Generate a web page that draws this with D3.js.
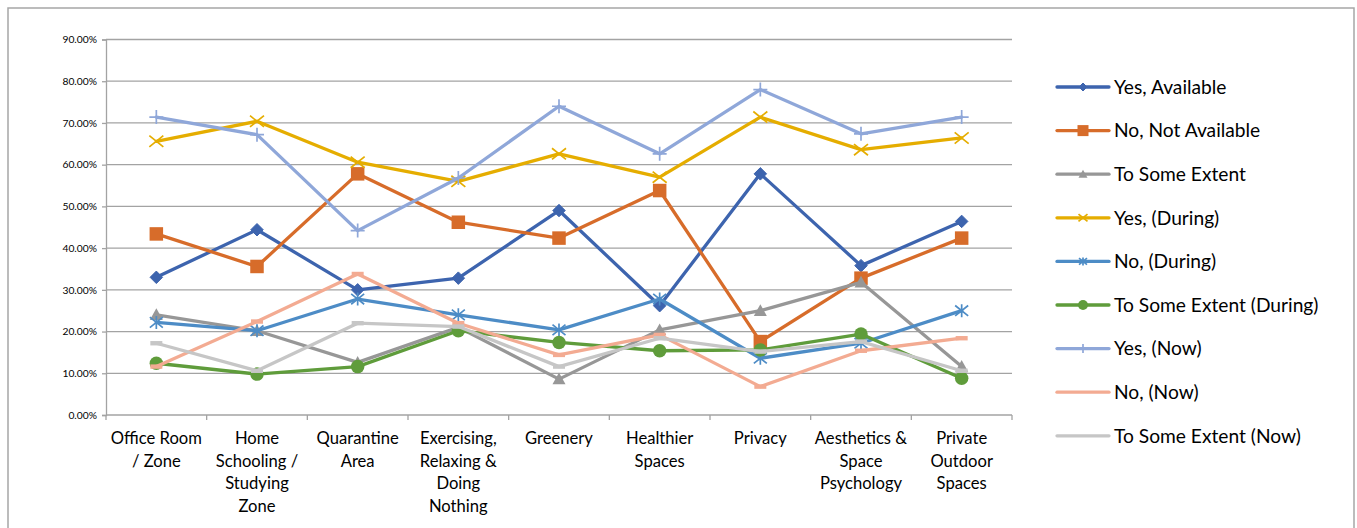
<!DOCTYPE html>
<html>
<head>
<meta charset="utf-8">
<script src="https://cdn.jsdelivr.net/npm/d3@7"></script>
<style>
  html, body { margin: 0; padding: 0; background: #fff; }
  svg { display: block; }
  text { font-family: Lato, "Open Sans", sans-serif; fill: #000; }
</style>
</head>
<body>
<svg id="chart" width="1357" height="528"></svg>
<script>
// Categories (x axis), each split into the lines it is written on
const categories = [
  "Office Room / Zone", "Home Schooling / Studying Zone", "Quarantine Area",
  "Exercising, Relaxing & Doing Nothing", "Greenery", "Healthier Spaces",
  "Privacy", "Aesthetics & Space Psychology", "Private Outdoor Spaces"
];
const categoryLines = [
  ["Office Room", "/ Zone"],
  ["Home", "Schooling /", "Studying", "Zone"],
  ["Quarantine", "Area"],
  ["Exercising,", "Relaxing &", "Doing", "Nothing"],
  ["Greenery"],
  ["Healthier", "Spaces"],
  ["Privacy"],
  ["Aesthetics &", "Space", "Psychology"],
  ["Private", "Outdoor", "Spaces"]
];

// Series values, in percent
const yesAvailable   = [33.0, 44.4, 30.0, 32.8, 49.0, 26.2, 57.8, 35.8, 46.4];
const noNotAvailable = [43.4, 35.6, 57.8, 46.2, 42.4, 53.8, 17.6, 32.8, 42.4];
const toSomeExtent   = [24.0, 20.2, 12.6, 21.0,  8.6, 20.4, 25.0, 31.8, 11.6];
const yesDuring      = [65.6, 70.4, 60.6, 56.0, 62.6, 57.0, 71.4, 63.6, 66.4];
const noDuring       = [22.2, 20.2, 27.8, 24.0, 20.4, 27.8, 13.6, 17.2, 25.0];
const someDuring     = [12.4,  9.8, 11.6, 20.2, 17.4, 15.4, 15.6, 19.4,  8.8];
const yesNow         = [71.4, 67.2, 44.2, 56.8, 74.0, 62.6, 78.0, 67.4, 71.4];
const noNow          = [11.6, 22.4, 33.8, 22.0, 14.4, 19.2,  6.8, 15.4, 18.4];
const someNow        = [17.2, 10.6, 22.0, 21.2, 11.6, 18.4, 15.2, 17.6, 10.6];

const seriesNames = [
  "Yes, Available", "No, Not Available", "To Some Extent",
  "Yes, (During)", "No, (During)", "To Some Extent (During)",
  "Yes, (Now)", "No, (Now)", "To Some Extent (Now)"
];
const seriesValues = [
  yesAvailable, noNotAvailable, toSomeExtent,
  yesDuring, noDuring, someDuring,
  yesNow, noNow, someNow
];
const seriesColors = [
  "#3d64ae", "#d76c2a", "#979797",
  "#e5ad00", "#4d8cc6", "#5f9c3b",
  "#8fa7d9", "#f3ab92", "#c6c6c6"
];
const seriesMarkers = [
  "diamond", "square", "triangle",
  "x", "asterisk", "circle",
  "plus", "dash", "dash"
];

const yTicks = [0, 10, 20, 30, 40, 50, 60, 70, 80, 90];

const series = seriesNames.map((name, i) => ({
  name, values: seriesValues[i], color: seriesColors[i], marker: seriesMarkers[i]
}));

const svg = d3.select("#chart");
const plot = { left: 106, right: 1012, top: 39.5, bottom: 415 };
const gridColor = "#a3a3a3";

// Chart area border
svg.append("rect")
  .attr("x", 8).attr("y", 8)
  .attr("width", 1346).attr("height", 540)
  .attr("fill", "#fff")
  .attr("stroke", "#a6a6a6").attr("stroke-width", 1.5);

const x = d3.scaleBand().domain(categories).range([plot.left, plot.right]).padding(0);
const y = d3.scaleLinear().domain([0, 90]).range([plot.bottom, plot.top]);
const cx = c => x(c) + x.bandwidth() / 2;

// Horizontal gridlines
svg.append("g")
  .selectAll("line")
  .data(yTicks.filter(t => t > 0))
  .join("line")
  .attr("x1", plot.left).attr("x2", plot.right)
  .attr("y1", d => y(d)).attr("y2", d => y(d))
  .attr("stroke", gridColor).attr("stroke-width", 1.3);

// Y axis
const yAxis = svg.append("g")
  .attr("transform", `translate(${plot.left},0)`)
  .call(d3.axisLeft(y).tickValues(yTicks).tickSize(4).tickPadding(5)
    .tickFormat(d => d.toFixed(2) + "%"));
yAxis.select(".domain").attr("stroke", gridColor).attr("stroke-width", 1.3);
yAxis.selectAll(".tick line").attr("stroke", gridColor).attr("stroke-width", 1.3);
yAxis.selectAll(".tick text")
  .style("font-family", "Lato, sans-serif").style("font-size", "10.3px").attr("fill", "#000");

// X axis: baseline with tick marks between categories
const xAxis = svg.append("g");
xAxis.append("line")
  .attr("x1", plot.left).attr("x2", plot.right)
  .attr("y1", plot.bottom).attr("y2", plot.bottom)
  .attr("stroke", gridColor).attr("stroke-width", 1.3);
const boundaries = categories.map(c => x(c)).concat([plot.right]);
xAxis.selectAll("line.tick")
  .data(boundaries)
  .join("line")
  .attr("class", "tick")
  .attr("x1", d => d).attr("x2", d => d)
  .attr("y1", plot.bottom).attr("y2", plot.bottom + 5)
  .attr("stroke", gridColor).attr("stroke-width", 1.3);

const labelG = svg.append("g");
categories.forEach((c, i) => {
  const t = labelG.append("text")
    .attr("x", cx(c))
    .attr("y", 444)
    .attr("text-anchor", "middle")
    .style("font-size", "16.6px");
  categoryLines[i].forEach((line, k) => {
    t.append("tspan").attr("x", cx(c)).attr("dy", k === 0 ? 0 : 22.7).text(line);
  });
});

// Marker drawing
function drawMarker(g, type, color, px, py, s) {
  const h = s / 2;
  switch (type) {
    case "diamond":
      g.append("path")
        .attr("d", `M${px},${py - h} L${px + h},${py} L${px},${py + h} L${px - h},${py} Z`)
        .attr("fill", color).attr("stroke", color).attr("stroke-width", 1);
      break;
    case "square":
      g.append("rect")
        .attr("x", px - h).attr("y", py - h).attr("width", s).attr("height", s)
        .attr("fill", color);
      break;
    case "triangle":
      g.append("path")
        .attr("d", `M${px},${py - h} L${px + h},${py + h * 0.8} L${px - h},${py + h * 0.8} Z`)
        .attr("fill", color);
      break;
    case "circle":
      g.append("circle").attr("cx", px).attr("cy", py).attr("r", h).attr("fill", color);
      break;
    case "x":
      g.append("path")
        .attr("d", `M${px - h},${py - h * 0.8} L${px + h},${py + h * 0.8} M${px + h},${py - h * 0.8} L${px - h},${py + h * 0.8}`)
        .attr("stroke", color).attr("stroke-width", 1.7).attr("fill", "none");
      break;
    case "asterisk":
      g.append("path")
        .attr("d", `M${px - h},${py - h * 0.8} L${px + h},${py + h * 0.8} M${px + h},${py - h * 0.8} L${px - h},${py + h * 0.8} M${px},${py - h} L${px},${py + h}`)
        .attr("stroke", color).attr("stroke-width", 1.7).attr("fill", "none");
      break;
    case "plus":
      g.append("path")
        .attr("d", `M${px - h},${py} L${px + h},${py} M${px},${py - h} L${px},${py + h}`)
        .attr("stroke", color).attr("stroke-width", 1.7).attr("fill", "none");
      break;
    case "dash":
      g.append("rect")
        .attr("x", px - h).attr("y", py - 2.2).attr("width", s).attr("height", 4.4)
        .attr("fill", color);
      break;
  }
}

const markerSize = { diamond: 12.5, square: 13.5, triangle: 13, circle: 13.5, x: 14, asterisk: 13, plus: 14, dash: 12 };

const line = d3.line().x(d => d[0]).y(d => d[1]);

// Series lines and markers, drawn in order
series.forEach(s => {
  const g = svg.append("g");
  const pts = s.values.map((v, i) => [cx(categories[i]), y(v)]);
  g.append("path")
    .attr("d", line(pts))
    .attr("fill", "none")
    .attr("stroke", s.color)
    .attr("stroke-width", 3.3)
    .attr("stroke-linejoin", "round")
    .attr("stroke-linecap", "round");
  pts.forEach(p => drawMarker(g, s.marker, s.color, p[0], p[1], markerSize[s.marker]));
});

// Legend
const legend = svg.append("g");
const legendMarkerSize = { diamond: 8, square: 11, triangle: 9, circle: 10, x: 9, asterisk: 8, plus: 9, dash: 0 };
series.forEach((s, i) => {
  const ly = 87 + i * 43.6;
  const g = legend.append("g");
  g.append("line")
    .attr("x1", 1057).attr("x2", 1109)
    .attr("y1", ly).attr("y2", ly)
    .attr("stroke", s.color).attr("stroke-width", 3.3)
    .attr("stroke-linecap", "round");
  if (s.marker !== "dash") drawMarker(g, s.marker, s.color, 1083, ly, legendMarkerSize[s.marker]);
  g.append("text")
    .attr("x", 1114).attr("y", ly + 6.8)
    .style("font-size", "19.2px")
    .text(s.name);
});
</script>
</body>
</html>
